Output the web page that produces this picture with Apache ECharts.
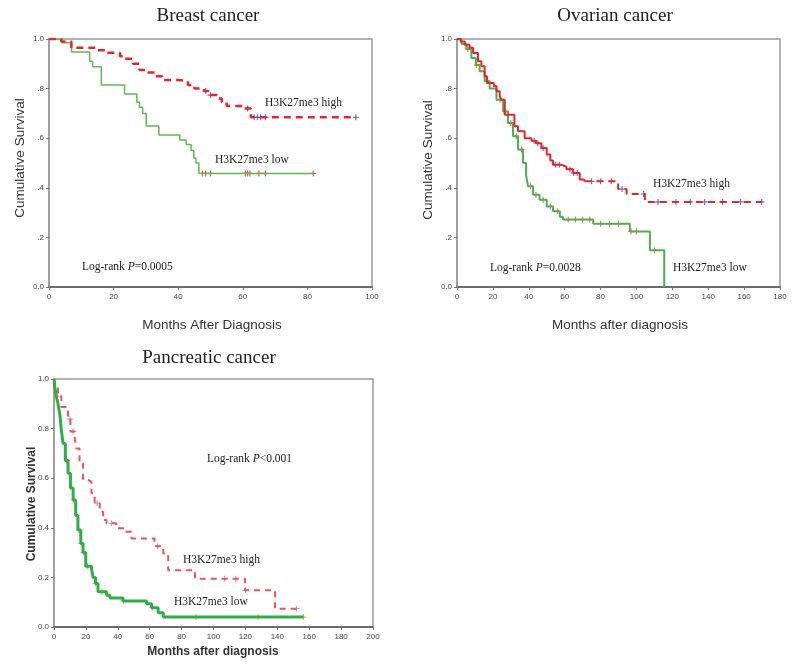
<!DOCTYPE html>
<html>
<head>
<meta charset="utf-8">
<script src="https://cdn.jsdelivr.net/npm/echarts@6/dist/echarts.min.js"></script>
<style>
  html, body { margin: 0; padding: 0; background: #fff; }
  #chart { width: 800px; height: 668px; }
</style>
</head>
<body>
<div id="chart"></div>
<script>
// DATA: [month, survival] step points of each Kaplan-Meier curve
const breastHigh = [[0, 1], [3.8, 0.99], [6.9, 0.965], [14.6, 0.955], [18, 0.945], [22, 0.93], [23.5, 0.92], [26, 0.9], [28, 0.875], [30, 0.865], [33, 0.85], [35, 0.835], [40, 0.83], [43, 0.815], [45, 0.8], [48, 0.79], [50, 0.774], [52, 0.76], [53.5, 0.745], [55, 0.73], [60, 0.72], [62.5, 0.684], [95, 0.684]];
const breastLow = [[0, 1], [4, 0.985], [7, 0.948], [12.6, 0.91], [13.5, 0.888], [16.2, 0.815], [23.4, 0.778], [27.2, 0.745], [28, 0.725], [29, 0.7], [30.1, 0.649], [34, 0.613], [40.5, 0.593], [42.5, 0.575], [44, 0.55], [44.8, 0.52], [45.5, 0.5], [46.4, 0.458], [81.8, 0.458]];
const breastHighCens = [[48.5, 0.79], [50, 0.774], [61.5, 0.72], [63.5, 0.684], [64.5, 0.684], [65.5, 0.684], [67, 0.684], [95, 0.684]];
const breastLowCens = [[47.5, 0.458], [48.5, 0.458], [50, 0.458], [60.8, 0.458], [61.5, 0.458], [62.2, 0.458], [65, 0.458], [67, 0.458], [81.8, 0.458]];

const ovarianHighA = [[0, 1], [2, 0.99], [4.3, 0.977], [7, 0.965], [9, 0.944], [11.7, 0.91], [13.6, 0.89], [15.4, 0.85], [16.7, 0.823], [20.5, 0.81], [22, 0.789], [23.8, 0.77], [24.7, 0.755], [26.6, 0.695], [32, 0.648], [34, 0.628], [37.7, 0.6], [41.5, 0.59], [44, 0.58], [47, 0.56], [50, 0.534], [52, 0.51], [53.5, 0.493], [58, 0.485], [61, 0.475], [64.7, 0.46], [68.4, 0.433], [71, 0.426]];
const ovarianHighB = [[71, 0.426], [89.8, 0.395], [94.5, 0.375], [104.7, 0.343], [169.8, 0.343]];
const ovarianLow = [[0, 1], [2.5, 0.98], [5.2, 0.96], [8, 0.923], [10.5, 0.895], [12.6, 0.87], [15.4, 0.83], [18.2, 0.8], [22, 0.755], [25.7, 0.708], [28.4, 0.661], [31.2, 0.608], [34, 0.554], [36.8, 0.5], [38.5, 0.45], [39.6, 0.406], [42.4, 0.372], [46, 0.352], [50, 0.325], [53.5, 0.305], [57.3, 0.283], [59, 0.272], [75.9, 0.255], [96.3, 0.224], [107.5, 0.148], [115.5, 0]];
const ovarianHighCens = [[43, 0.59], [45, 0.58], [48, 0.56], [55, 0.493], [57, 0.493], [63, 0.475], [65, 0.46], [67, 0.46], [75, 0.426], [80, 0.426], [86, 0.426], [92, 0.395], [104, 0.375], [112, 0.343], [122, 0.343], [130, 0.343], [138, 0.343], [148, 0.343], [158, 0.343], [169.8, 0.343]];
const ovarianLowCens = [[6, 0.96], [11, 0.895], [17, 0.83], [24, 0.755], [27, 0.708], [30, 0.661], [33, 0.608], [36, 0.554], [41, 0.406], [44, 0.372], [48, 0.352], [52, 0.325], [56, 0.305], [62, 0.272], [66, 0.272], [70, 0.272], [74, 0.272], [80, 0.255], [85, 0.255], [90, 0.255], [97, 0.224], [100, 0.224], [110, 0.148]];

const pancHigh = [[0, 1], [1, 0.97], [2.5, 0.93], [4.6, 0.887], [8.8, 0.838], [10.3, 0.788], [13, 0.76], [14, 0.72], [16, 0.66], [18.2, 0.593], [21.4, 0.585], [23.5, 0.539], [25.5, 0.499], [28.7, 0.465], [30.8, 0.431], [32.9, 0.418], [39, 0.398], [44.4, 0.384], [48.6, 0.357], [63, 0.326], [68.5, 0.296], [71.6, 0.229], [88.4, 0.195], [119.8, 0.148], [138.6, 0.074], [152, 0.074]];
const pancLow = [[0, 1], [0.4, 0.97], [1.5, 0.93], [2.5, 0.9], [3.6, 0.86], [4.6, 0.795], [5.7, 0.74], [7.1, 0.671], [8.8, 0.62], [10.3, 0.56], [12, 0.512], [13.6, 0.45], [15, 0.391], [16.8, 0.337], [18.2, 0.3], [19.9, 0.245], [23.5, 0.235], [24.5, 0.2], [26, 0.175], [27.6, 0.142], [33, 0.128], [35, 0.117], [43.3, 0.105], [58, 0.094], [61.2, 0.078], [65.3, 0.057], [68.5, 0.04], [156.4, 0.04]];
const pancHighCens = [[10, 0.838], [12, 0.788], [27, 0.499], [36, 0.418], [65, 0.326], [107, 0.195], [114, 0.195], [120, 0.148], [152, 0.074]];
const pancLowCens = [[1.5, 0.93], [8, 0.671], [12, 0.512], [15.5, 0.391], [17, 0.337], [18.5, 0.3], [21, 0.245], [26, 0.175], [30, 0.142], [43.5, 0.105], [61.5, 0.078], [89, 0.04], [128, 0.04], [156.4, 0.04]];

// tick labels
const shortYLabels = ['0.0', '.2', '.4', '.6', '.8', '1.0'];
const pancYLabels = ['0.0', '0.2', '0.4', '0.6', '0.8', '1.0'];

const RED = '#e5262b';
const GREEN = '#5dbb4f';
const BLUE = '#4a4fb0';
const PLUS = 'path://M4,0 H6 V4 H10 V6 H6 V10 H4 V6 H0 V4 H4 Z';

const chart = echarts.init(document.getElementById('chart'));

function makeX(idx, max) {
    return {
        gridIndex: idx, type: 'value', min: 0, max: max, interval: 20,
        axisLine: { lineStyle: { color: '#555', width: 1.5 } },
        axisTick: { show: true, length: 3, lineStyle: { color: '#777' } },
        axisLabel: { color: '#444', fontSize: 8, fontFamily: 'Arial', margin: 6 },
        splitLine: { show: false }
    };
}

function makeY(idx, labels) {
    return {
        gridIndex: idx, type: 'value', min: 0, max: 1, interval: 0.2,
        axisLine: { lineStyle: { color: '#999', width: 1.5 } },
        axisTick: { show: true, length: 3, lineStyle: { color: '#777' } },
        axisLabel: {
            color: '#444', fontSize: 8, fontFamily: 'Arial', margin: 5,
            formatter: function (v) { return labels[Math.round(v * 5)]; }
        },
        splitLine: { show: false }
    };
}

function curve(idx, data, color, width, type) {
    return {
        type: 'line', xAxisIndex: idx, yAxisIndex: idx, data: data, step: 'end',
        showSymbol: false, silent: true,
        lineStyle: { color: color, width: width, type: type }
    };
}

function cens(idx, data, color) {
    return {
        type: 'scatter', xAxisIndex: idx, yAxisIndex: idx, data: data,
        symbol: PLUS, symbolSize: 6, silent: true,
        itemStyle: { color: color }
    };
}

function serifText(x, y, text, size) {
    return {
        type: 'text', x: x, y: y,
        style: {
            text: text, font: size + 'px "Liberation Serif", serif', fill: '#222',
            align: 'left', verticalAlign: 'middle'
        }
    };
}

function logRank(x, y, sign, p) {
    return {
        type: 'text', x: x, y: y,
        style: {
            text: '{n|Log-rank }{i|P}{n|' + sign + p + '}',
            verticalAlign: 'middle', align: 'left',
            rich: {
                n: { font: '11.5px "Liberation Serif", serif', fill: '#222' },
                i: { font: 'italic 11.5px "Liberation Serif", serif', fill: '#222' }
            }
        }
    };
}

function title(x, y, text) {
    return {
        type: 'text', x: x, y: y,
        style: { text: text, font: '19px "Liberation Serif", serif', fill: '#222', align: 'center', verticalAlign: 'middle' }
    };
}

function sansLabel(x, y, text, bold, rotate, size) {
    return {
        type: 'text', x: x, y: y, rotation: rotate ? Math.PI / 2 : 0,
        style: {
            text: text, font: (bold ? 'bold ' : '') + size + 'px Arial, "Liberation Sans", sans-serif',
            fill: '#333', align: 'center', verticalAlign: 'middle'
        }
    };
}

const option = {
    animation: false,
    backgroundColor: '#fff',
    grid: [
        { left: 49, top: 39, width: 323, height: 248, show: true, borderColor: '#999', borderWidth: 1.5 },
        { left: 457, top: 39, width: 323, height: 248, show: true, borderColor: '#999', borderWidth: 1.5 },
        { left: 54, top: 379, width: 319, height: 248, show: true, borderColor: '#999', borderWidth: 1.5 }
    ],
    xAxis: [makeX(0, 100), makeX(1, 180), makeX(2, 200)],
    yAxis: [makeY(0, shortYLabels), makeY(1, shortYLabels), makeY(2, pancYLabels)],
    series: [
        curve(0, breastLow, GREEN, 1.5, 'solid'),
        curve(0, breastHigh, RED, 2.5, [7, 5]),
        cens(0, breastLowCens, RED),
        cens(0, breastHighCens, BLUE),

        curve(1, ovarianLow, '#4caf50', 2, 'solid'),
        curve(1, ovarianHighA, RED, 2, 'solid'),
        curve(1, ovarianHighB, RED, 2, [7, 5]),
        cens(1, ovarianLowCens, '#e8553a'),
        cens(1, ovarianHighCens, BLUE),

        curve(2, pancHigh, '#f05454', 2, [6, 5]),
        curve(2, pancLow, '#2fae47', 3, 'solid'),
        cens(2, pancLowCens, '#f08a5a'),
        cens(2, pancHighCens, '#8a8fd0')
    ],
    graphic: [
        title(208, 16, 'Breast cancer'),
        title(615, 16, 'Ovarian cancer'),
        title(209, 358, 'Pancreatic cancer'),

        sansLabel(20, 158, 'Cumulative Survival', false, true, 13.5),
        sansLabel(212, 325, 'Months After Diagnosis', false, false, 13.5),
        sansLabel(428, 160, 'Cumulative Survival', false, true, 13.5),
        sansLabel(620, 325, 'Months after diagnosis', false, false, 13.5),
        sansLabel(32, 504, 'Cumulative Survival', true, true, 12),
        sansLabel(213, 652, 'Months after diagnosis', true, false, 12),

        serifText(265, 103, 'H3K27me3 high', 11.5),
        serifText(215, 160, 'H3K27me3 low', 11.5),
        logRank(82, 267, '=', '0.0005'),

        serifText(653, 184, 'H3K27me3 high', 11.5),
        serifText(673, 268, 'H3K27me3 low', 11.5),
        logRank(490, 268, '=', '0.0028'),

        logRank(207, 459, '<', '0.001'),
        serifText(183, 560, 'H3K27me3 high', 11.5),
        serifText(174, 602, 'H3K27me3 low', 11.5)
    ]
};

chart.setOption(option);
</script>
</body>
</html>
